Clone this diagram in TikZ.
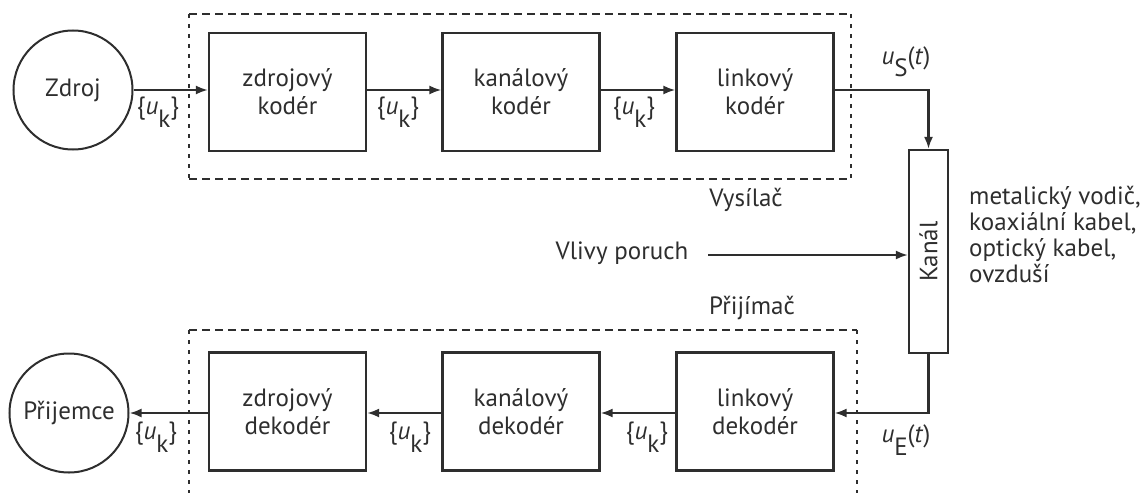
\documentclass[tikz,border=0pt]{standalone}
\usepackage{fontspec}
\setmainfont{PT Sans}
\usetikzlibrary{arrows.meta}
\definecolor{ink}{HTML}{2E2E2E}
\newcommand{\lowsub}[1]{\raisebox{-0.5em}{#1}}
\newcommand{\uk}{\{\textit{u}\lowsub{k}\}}
\tikzset{
  every node/.style={text=ink, font=\fontsize{25}{28}\selectfont},
  blk/.style={draw=ink, line width=2.2pt, minimum width=157pt, minimum height=118pt, align=center, inner sep=0pt},
  src/.style={draw=ink, line width=2pt, circle, minimum size=119pt, inner sep=0pt},
  conn/.style={draw=ink, line width=2.2pt, -{Latex[length=12pt,width=9pt]}},
  hdash/.style={draw=ink, line width=2.4pt, dash pattern=on 8pt off 5pt},
  vdash/.style={draw=ink, line width=2.4pt, dash pattern=on 4pt off 6pt},
  lbl/.style={inner sep=0pt},
  side/.style={align=left, inner sep=0pt, font=\fontsize{25}{26}\selectfont}
}
\begin{document}
\begin{tikzpicture}[x=1pt,y=-1pt]
\useasboundingbox (0,0) rectangle (1147,492);
\begin{scope}
\clip (0,0) rectangle (1147,492);
% dashed frames
\draw[hdash] (189,14) -- (851,14);
\draw[hdash] (189,179) -- (851,179);
\draw[vdash] (189,14) -- (189,179);
\draw[vdash] (851,14) -- (851,179);
\draw[hdash] (189,330) -- (857,330);
\draw[vdash] (189,330) -- (189,500);
\draw[vdash] (857,330) -- (857,500);
\end{scope}
% nodes
\node[src] (zdroj) at (73,90) {Zdroj};
\node[blk] (zk) at (287.5,92) {zdrojový\\kodér};
\node[blk] (kk) at (521,92) {kanálový\\kodér};
\node[blk] (lk) at (755,92) {linkový\\kodér};
\node[draw=ink, line width=2.2pt, minimum width=39pt, minimum height=203pt, inner sep=0pt] (kanal) at (928.5,251.5) {};
\node[rotate=90, inner sep=0pt] at (kanal.center) {Kanál};
\node[src] (prij) at (69,413) {Přijemce};
\node[blk] (zd) at (287.5,411.5) {zdrojový\\dekodér};
\node[blk] (kd) at (521,411.5) {kanálový\\dekodér};
\node[blk] (ld) at (755,411.5) {linkový\\dekodér};
% labels
\node[lbl] (vys) at (746,200) {Vysílač};
\node[lbl] (pri) at (752,308) {Přijímač};
\node[lbl] (vliv) at (622,253) {Vlivy poruch};
\node[side, anchor=north west] (media) at (969,186) {metalický vodič,\\koaxiální kabel,\\optický kabel,\\ovzduší};
\node[lbl] (l1) at (158,112) {\uk};
\node[lbl] (l2) at (398,112) {\uk};
\node[lbl] (l3) at (634,112) {\uk};
\node[lbl] (l4) at (156,437) {\uk};
\node[lbl] (l5) at (410,437) {\uk};
\node[lbl] (l6) at (647,437) {\uk};
\node[lbl] (us) at (906,62) {\textit{u}\lowsub{S}(\textit{t})};
\node[lbl] (ue) at (906,440) {\textit{u}\lowsub{E}(\textit{t})};
% connectors
\coordinate (c1) at (928.5,90);
\coordinate (c2) at (928.5,413);
\coordinate (vs) at (708,255);
\draw[conn] (zdroj.east) -- (zk.west |- zdroj.east);
\draw[conn] (zk.east |- 0,90) -- (kk.west |- 0,90);
\draw[conn] (kk.east |- 0,90) -- (lk.west |- 0,90);
\draw[conn] (lk.east |- c1) -- (c1) -- (kanal.north);
\draw[conn] (vs) -- (kanal.west |- vs);
\draw[conn] (kanal.south) -- (c2) -- (ld.east |- c2);
\draw[conn] (ld.west |- c2) -- (kd.east |- c2);
\draw[conn] (kd.west |- c2) -- (zd.east |- c2);
\draw[conn] (zd.west |- c2) -- (prij.east |- c2);
\end{tikzpicture}
\end{document}
